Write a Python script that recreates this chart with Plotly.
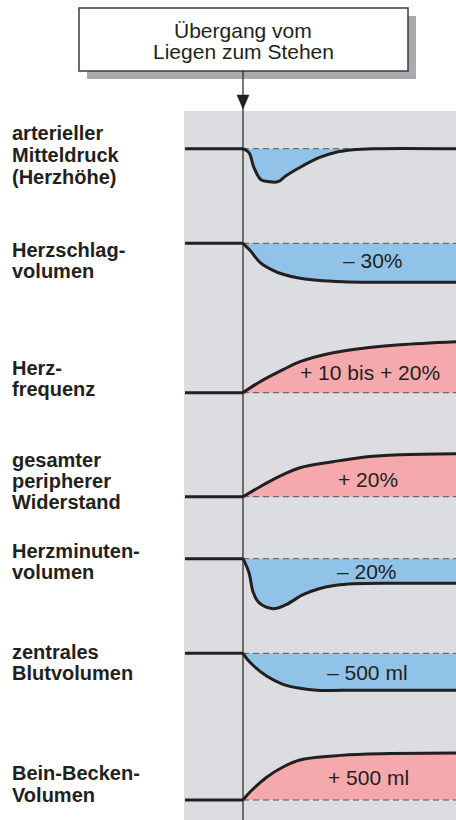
import plotly.graph_objects as go

W, H = 456, 820

# ---------------- data (time after standing up, deviation from resting level) ----------------
labels = [
    ["arterieller", "Mitteldruck", "(Herzhöhe)"],
    ["Herzschlag-", "volumen"],
    ["Herz-", "frequenz"],
    ["gesamter", "peripherer", "Widerstand"],
    ["Herzminuten-", "volumen"],
    ["zentrales", "Blutvolumen"],
    ["Bein-Becken-", "Volumen"],
]
notes = ["", "– 30%", "+ 10 bis + 20%", "+ 20%", "– 20%", "– 500 ml", "+ 500 ml"]

t_art = [0, 6, 11, 18, 26, 35, 43, 60, 76, 93, 110, 130, 213]
v_art = [0, -4, -19, -31, -33, -33, -27, -17, -9, -3.5, -1, 0, 0]

t_hsv = [0, 7, 17, 28, 40, 57, 74, 100, 130, 213]
v_hsv = [0, -7, -19, -26, -31, -35, -37, -38.5, -39, -39]

t_hf = [0, 17, 40, 57, 90, 124, 157, 213]
v_hf = [0, 11, 23, 31, 40, 45, 48, 51]

t_tpr = [0, 17, 40, 57, 90, 124, 157, 213]
v_tpr = [0, 10, 22, 29, 35, 40, 42, 43]

t_hmv = [0, 6, 10, 16, 30, 43, 60, 76, 93, 110, 150, 213]
v_hmv = [0, -14, -33, -44, -50, -46, -36, -30, -26.5, -25, -24.5, -24.5]

t_zbv = [0, 7, 24, 40, 57, 74, 100, 213]
v_zbv = [0, -9, -23, -31, -35, -37, -37, -37]

t_bbv = [0, 7, 24, 40, 57, 90, 124, 213]
v_bbv = [0, 8, 23, 33, 40, 44, 46, 47]

series_t = [t_art, t_hsv, t_hf, t_tpr, t_hmv, t_zbv, t_bbv]
series_v = [v_art, v_hsv, v_hf, v_tpr, v_hmv, v_zbv, v_bbv]

# ---------------- layout / style ----------------
X0, X1 = -243, 213          # x-axis range (time units)
T_PANEL = -59               # start of grey panel
T_PRE = -58                 # start of resting line
baseline_px = [148.7, 243.3, 392.7, 496.7, 558.7, 653.3, 800]
label_px = [[133, 155, 177], [250, 271], [367.5, 388.5], [460, 481, 502],
            [551, 572], [652, 673], [773, 795]]
note_pos = [None, (130, -17), (127, 20), (125, 17), (124, -13), (124, -19), (125, 23)]

BLUE = "#91c3e9"
PINK = "#f5a9ac"
GREY = "#dcdde1"
INK = "#231f20"
FONT = "Liberation Sans, Arial, sans-serif"
LABEL_SIZE = 20
NOTE_SIZE = 21


def py(px):
    return 1 - px / H


def xp(t):
    return (t - X0) / (X1 - X0)


fig = go.Figure()
layout_axes = {}
annotations = []

for i in range(7):
    ax = "" if i == 0 else str(i + 1)
    yname = "y" + ax
    vals = series_v[i]
    down = min(vals) < 0
    b = baseline_px[i]
    if down:
        lo, hi = -60, 6
    else:
        lo, hi = -6, 60
    layout_axes["yaxis" + ax] = dict(
        domain=[py(b - lo), py(b - hi)], range=[lo, hi], visible=False,
        anchor="x", fixedrange=True)
    fill = BLUE if down else PINK
    # resting line before standing up
    fig.add_trace(go.Scatter(x=[T_PRE, 0], y=[0, 0], yaxis=yname, mode="lines",
                             line=dict(color=INK, width=3), hoverinfo="skip"))
    # dashed resting level after standing up
    fig.add_trace(go.Scatter(x=[0, X1], y=[0, 0], yaxis=yname, mode="lines",
                             line=dict(color="#555555", width=1, dash="6px,4px"),
                             hoverinfo="skip"))
    # response curve
    fig.add_trace(go.Scatter(x=series_t[i], y=vals, yaxis=yname, mode="lines",
                             line=dict(color=INK, width=3, shape="spline", smoothing=1.0),
                             fill="tonexty", fillcolor=fill, hoverinfo="skip"))
    if notes[i]:
        nx, ny = note_pos[i]
        annotations.append(dict(x=nx, y=ny, xref="x", yref=yname, text=notes[i],
                                showarrow=False, font=dict(family=FONT, size=NOTE_SIZE, color=INK),
                                xanchor="center", yanchor="middle"))
    for line_txt, lpx in zip(labels[i], label_px[i]):
        annotations.append(dict(x=10 / W, y=py(lpx), xref="paper", yref="paper",
                                text="<b>" + line_txt + "</b>", showarrow=False,
                                font=dict(family=FONT, size=LABEL_SIZE, color=INK),
                                xanchor="left", yanchor="middle"))

# header box text
for txt, lpx in [("Übergang vom", 30), ("Liegen zum Stehen", 51)]:
    annotations.append(dict(x=xp(0), y=py(lpx), xref="paper", yref="paper", text=txt,
                            showarrow=False, font=dict(family=FONT, size=NOTE_SIZE, color=INK),
                            xanchor="center", yanchor="middle"))

shapes = [
    # grey panel
    dict(type="rect", xref="paper", yref="paper", x0=xp(T_PANEL), x1=1, y0=0, y1=py(111),
         fillcolor=GREY, line=dict(width=0), layer="below"),
    # box shadow
    dict(type="rect", xref="paper", yref="paper", x0=87 / W, x1=416 / W, y0=py(79), y1=py(16),
         fillcolor="#a9aaae", line=dict(width=0), layer="above"),
    # box
    dict(type="rect", xref="paper", yref="paper", x0=79 / W, x1=408 / W, y0=py(71), y1=py(8),
         fillcolor="white", line=dict(color="#3c3c3c", width=1.5), layer="above"),
    # vertical time marker
    dict(type="line", xref="paper", yref="paper", x0=xp(0), x1=xp(0), y0=0, y1=py(71),
         line=dict(color=INK, width=1.2), layer="above"),
    # arrow head
    dict(type="path", xref="paper", yref="paper",
         path=f"M {xp(0)},{py(109)} L {xp(-6)},{py(95)} L {xp(6)},{py(95)} Z",
         fillcolor=INK, line=dict(color=INK, width=0.5), layer="above"),
]

fig.update_layout(
    width=W, height=H, margin=dict(l=0, r=0, t=0, b=0),
    paper_bgcolor="white", plot_bgcolor="rgba(0,0,0,0)",
    showlegend=False,
    xaxis=dict(range=[X0, X1], visible=False, domain=[0, 1], fixedrange=True),
    shapes=shapes, annotations=annotations,
    **layout_axes,
)

fig.write_html("out.html", config={"displayModeBar": False},
               post_script="document.body.style.margin='0';document.body.style.overflow='hidden';")
